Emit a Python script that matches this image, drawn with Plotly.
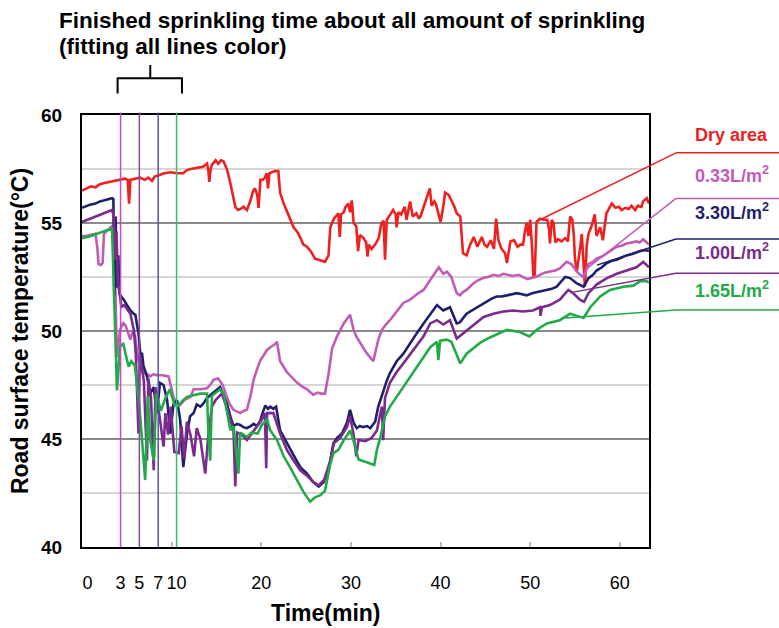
import plotly.graph_objects as go

# ---------------- data (time in min, temperature in degC) ----------------
dry_t = [0, 0.5, 1.0, 1.5, 2.0, 2.5, 3.0, 3.6, 4.2, 4.8, 5.1, 5.25, 5.4, 6.0, 6.5, 7.0, 7.4, 7.8, 8.1, 8.5,
         9.2, 9.9, 10.6, 11.3, 11.7, 12.1, 12.8, 13.5, 13.95, 14.1, 14.2, 14.35, 14.5, 14.9, 15.2, 15.5, 15.8,
         16.0, 16.2, 16.6, 17.1, 17.4, 17.7, 18.0, 18.4, 18.8, 19.1, 19.3, 19.55, 19.7, 19.9, 20.2, 20.4, 20.6,
         20.75, 20.9, 21.2, 21.5, 21.9, 22.1, 22.5, 22.9, 23.3, 23.6, 24.0, 24.2, 24.7, 25.1, 25.5, 26.0, 26.4,
         26.7, 27.1, 27.5, 27.7, 28.1, 28.4, 28.6, 28.75, 28.9, 29.2, 29.4, 29.7, 29.9, 30.1, 30.3, 30.6, 30.8,
         31.0, 31.4, 31.7, 31.85, 32.0, 32.3, 32.7, 33.1, 33.4, 33.65, 33.8, 34.0, 34.4, 34.7, 35.0, 35.1, 35.3,
         35.6, 36.0, 36.2, 36.6, 36.9, 37.3, 37.6, 37.8, 38.1, 38.5, 38.8, 39.0, 39.3, 39.5, 39.8, 40.0, 40.3,
         40.5, 40.9, 41.2, 41.5, 41.8, 42.2, 42.5, 42.9, 43.3, 43.7, 44.1, 44.6, 44.9, 45.2, 45.6, 45.95, 46.2,
         46.45, 46.8, 47.2, 47.4, 47.8, 48.2, 48.6, 48.9, 49.2, 49.4, 49.6, 49.8, 50.0, 50.2, 50.35, 50.5, 50.7,
         51.1, 51.5, 51.9, 52.1, 52.2, 52.4, 52.6, 52.8, 53.1, 53.5, 53.9, 54.2, 54.45, 54.7, 54.85, 55.0, 55.2,
         55.4, 55.6, 55.75, 55.9, 56.1, 56.3, 56.5, 56.8, 57.2, 57.4, 57.8, 58.1, 58.3, 58.5, 58.7, 59.1, 59.5,
         59.9, 60.2, 60.6, 61.0, 61.3, 61.7, 62.0, 62.4, 62.6, 63.0, 63.25]
dry_y = [56.5, 56.6, 56.7, 56.65, 56.8, 56.85, 56.9, 56.95, 57.0, 57.05, 57.0, 55.9, 57.0, 57.05, 57.1, 57.0, 57.1,
         56.95, 57.15, 57.2, 57.3, 57.35, 57.3, 57.3, 57.45, 57.5, 57.55, 57.6, 57.75, 57.4, 56.9, 57.5, 57.7,
         57.9, 57.75, 57.9, 57.85, 57.6, 57.45, 56.75, 55.75, 55.6, 55.65, 55.75, 55.6, 56.05, 56.5, 56.6, 56.3,
         55.7, 57.0, 57.0, 57.1, 57.3, 56.6, 57.3, 57.35, 57.4, 57.4, 56.4, 55.9, 55.5, 55.1, 54.8, 54.6, 54.45,
         54.0, 53.9, 53.7, 53.35, 53.3, 53.25, 53.2, 53.5, 54.8, 55.2, 55.35, 55.45, 54.35, 55.4, 55.5, 55.75,
         55.9, 55.5, 56.05, 55.0, 54.85, 53.7, 54.45, 54.3, 54.1, 53.45, 54.0, 53.8, 54.0, 54.3, 55.0, 55.1, 53.3,
         55.15, 55.4, 55.6, 55.4, 54.8, 55.5, 55.4, 55.75, 55.15, 56.0, 55.3, 55.45, 55.2, 55.35, 55.7, 56.2,
         56.6, 55.8, 56.0, 55.85, 55.4, 55.05, 55.75, 56.4, 56.3, 56.05, 55.8, 55.45, 55.3, 53.6, 53.5, 54.0,
         54.35, 53.9, 54.35, 54.0, 53.9, 54.2, 53.8, 55.2, 54.2, 53.8, 53.6, 53.15, 54.15, 54.2, 53.9, 54.0,
         54.0, 54.6, 55.0, 54.4, 55.15, 53.9, 52.5, 52.6, 55.05, 55.2, 55.15, 55.15, 54.7, 54.05, 55.15, 55.0,
         54.1, 54.25, 54.15, 54.3, 54.15, 55.3, 55.15, 54.5, 53.3, 52.75, 53.3, 53.95, 54.5, 53.3, 52.05, 53.95,
         54.5, 54.8, 55.4, 54.4, 54.8, 54.2, 54.8, 55.45, 55.6, 55.9, 55.7, 55.75, 55.6, 55.7, 55.65, 55.8,
         55.6, 55.8, 55.75, 56.0, 56.15, 55.9]

l033_t = [0, 0.5, 1.0, 1.5, 1.7, 1.85, 2.1, 2.3, 2.45, 2.9, 3.35, 3.55, 3.7, 3.9, 4.25, 4.6, 4.9, 5.4, 5.6, 5.9,
          6.3, 6.9, 7.3, 7.6, 8.0, 8.35, 9.0, 9.65, 10.2, 10.6, 11.0, 11.4, 12.1, 12.45, 13.2, 13.95, 14.3, 14.7,
          15.2, 15.7, 16.15, 16.5, 16.9, 17.65, 18.0, 18.4, 18.8, 19.15, 19.5, 19.9, 20.3, 20.6, 21.0, 21.4,
          21.75, 22.1, 22.85, 23.4, 24.0, 24.5, 25.1, 25.8, 26.3, 26.7, 27.1, 27.5, 27.9, 28.45, 28.8, 29.2,
          29.9, 30.3, 30.6, 31.0, 31.4, 31.8, 32.2, 32.5, 33.05, 33.45, 33.9, 34.35, 35.1, 35.85, 36.6, 37.35,
          38.1, 38.6, 39.05, 39.8, 40.3, 40.7, 41.2, 41.8, 42.15, 42.5, 42.9, 43.65, 44.2, 44.75, 45.3, 45.9,
          46.5, 47.0, 47.5, 48.1, 48.7, 49.2, 49.7, 50.15, 50.6, 51.1, 51.6, 52.2, 52.8, 53.3, 53.7, 54.05,
          54.6, 55.2, 55.6, 55.95, 56.5, 57.0, 57.4, 58.0, 58.55, 59.1, 59.65, 60.2, 60.75, 61.3, 61.85, 62.2,
          62.6, 63.25]
l033_y = [54.4, 54.4, 54.45, 54.5, 53.9, 53.1, 53.05, 53.15, 54.5, 54.7, 54.85, 54.8, 51.45, 48.8, 50.05, 50.4,
          50.2, 49.6, 49.9, 49.8, 48.65, 48.05, 48.0, 47.9, 48.0, 47.95, 47.95, 47.9, 46.95, 46.5, 46.6, 46.8,
          46.95, 47.3, 47.3, 47.35, 47.5, 47.75, 47.8, 47.5, 46.95, 46.6, 46.35, 46.2, 46.3, 46.35, 47.0, 47.75,
          48.2, 48.65, 48.9, 49.1, 49.25, 49.35, 49.5, 48.6, 48.1, 47.85, 47.6, 47.45, 47.3, 47.05, 47.15, 47.1,
          47.1, 48.0, 49.2, 49.75, 50.05, 50.35, 50.75, 50.05, 49.75, 49.45, 49.2, 48.95, 48.75, 48.6, 49.6,
          50.05, 50.3, 50.5, 50.9, 51.3, 51.45, 51.7, 51.9, 52.2, 52.5, 52.95, 52.65, 52.75, 52.5, 51.75, 51.65,
          51.8, 51.9, 52.2, 52.35, 52.45, 52.5, 52.6, 52.55, 52.65, 52.6, 52.55, 52.6, 52.5, 52.4, 52.45, 52.5,
          52.6, 52.7, 52.75, 52.8, 52.9, 53.05, 53.2, 53.1, 52.75, 52.6, 52.5, 53.1, 53.2, 53.35, 53.45, 53.6,
          53.75, 53.9, 53.95, 54.05, 54.1, 54.15, 54.1, 54.25, 54.0]

l330_t = [0, 0.5, 0.9, 1.5, 2.0, 2.5, 2.9, 3.35, 3.5, 3.6, 3.75, 3.9, 4.05, 4.2, 4.65, 5.0, 5.4, 5.75, 5.95, 6.3,
          6.5, 6.7, 6.85, 7.25, 7.6, 8.0, 8.35, 8.7, 9.1, 9.5, 9.85, 10.2, 10.6, 10.95, 11.3, 11.7, 12.05,
          12.45, 12.8, 13.2, 13.55, 13.95, 14.5, 15.05, 15.4, 15.8, 16.15, 16.55, 16.9, 17.3, 17.65, 18.0, 18.4,
          18.8, 19.15, 19.5, 19.9, 20.1, 20.45, 20.75, 21.0, 21.35, 21.65, 22.1, 22.85, 23.6, 24.35, 25.1, 25.8,
          26.4, 26.95, 27.5, 28.05, 28.45, 29.0, 29.55, 29.9, 30.3, 30.65, 31.0, 31.35, 31.8, 32.15, 32.7, 33.05,
          33.6, 34.0, 34.35, 35.1, 35.85, 36.6, 37.35, 38.1, 38.85, 39.6, 40.3, 40.7, 41.05, 41.8, 42.15, 42.9,
          43.5, 44.05, 44.6, 45.15, 45.7, 46.25, 46.8, 47.4, 48.0, 48.5, 49.1, 49.6, 50.2, 50.7, 51.3, 51.85,
          52.4, 52.95, 53.5, 53.9, 54.45, 54.8, 55.2, 55.95, 56.5, 57.0, 57.4, 58.0, 58.55, 59.1, 59.65, 60.2,
          60.75, 61.3, 61.85, 62.3, 62.8, 63.25]
l330_y = [55.7, 55.8, 55.85, 55.9, 56.0, 56.05, 56.1, 56.15, 56.1, 51.6, 55.3, 52.0, 53.5, 51.7, 51.45, 51.2,
          50.95, 50.8, 50.75, 49.9, 48.95, 48.95, 48.4, 47.9, 47.1, 47.4, 46.2, 47.6, 47.5, 46.8, 45.25, 46.6,
          46.8, 45.9, 43.7, 45.2, 46.05, 46.2, 46.6, 46.5, 46.65, 46.9, 47.1, 47.3, 47.4, 47.0, 46.65, 46.05,
          45.6, 45.7, 45.65, 45.55, 45.5, 45.6, 45.7, 45.6, 45.85, 46.15, 46.55, 46.4, 46.5, 46.4, 46.5, 45.4,
          44.8, 44.25, 43.7, 43.4, 43.0, 42.8, 43.0, 43.55, 44.8, 45.05, 45.25, 45.75, 46.35, 45.75, 45.5, 45.6,
          45.55, 45.6, 45.5, 45.8, 46.5, 47.25, 47.7, 48.05, 48.6, 48.95, 49.45, 49.9, 50.35, 50.8, 51.2, 50.95,
          51.05, 51.1, 50.35, 50.4, 50.8, 50.95, 51.1, 51.2, 51.35, 51.5, 51.6, 51.6, 51.65, 51.7, 51.75, 51.7,
          51.65, 51.75, 51.8, 51.85, 51.9, 51.95, 52.05, 52.3, 52.5, 52.45, 52.35, 52.2, 52.05, 52.45, 52.6,
          52.8, 52.95, 53.15, 53.25, 53.3, 53.4, 53.5, 53.55, 53.65, 53.7, 53.75, 53.7]

l100_t = [0, 0.9, 2.0, 2.9, 3.35, 3.55, 3.7, 3.85, 4.0, 4.2, 4.4, 4.7, 5.4, 5.8, 6.0, 6.3, 6.45, 6.9, 7.25, 7.4,
          7.7, 8.0, 8.2, 8.7, 9.1, 9.3, 9.6, 9.9, 10.3, 10.8, 11.1, 11.4, 11.7, 12.1, 12.5, 12.8, 13.2, 13.75,
          14.1, 14.5, 14.9, 15.6, 16.1, 16.9, 17.1, 17.3, 17.8, 18.4, 19.0, 19.6, 20.0, 20.4, 20.55, 20.65,
          21.35, 22.1, 22.85, 23.6, 24.35, 25.1, 25.8, 26.4, 27.0, 27.7, 28.1, 28.8, 29.55, 29.9, 30.3, 30.6,
          30.85, 31.6, 32.3, 32.9, 33.45, 33.6, 33.8, 34.35, 35.1, 35.85, 36.6, 37.35, 38.1, 38.85, 39.6, 40.3,
          41.05, 41.8, 42.55, 43.65, 44.8, 45.9, 47.0, 48.1, 49.2, 50.3, 51.1, 51.15, 51.3, 52.2, 53.3, 54.25,
          54.8, 55.55, 56.0, 56.5, 57.4, 58.55, 59.65, 60.75, 61.85, 62.6, 63.25]
l100_y = [55.05, 55.2, 55.4, 55.55, 55.6, 55.3, 53.3, 54.6, 52.2, 51.75, 51.1, 51.2, 50.8, 50.0, 48.95, 45.25,
          48.9, 47.7, 44.0, 47.8, 46.9, 43.55, 47.4, 45.9, 44.65, 46.2, 45.2, 46.5, 44.4, 44.35, 45.6, 44.1, 45.8,
          45.2, 44.2, 45.5, 45.0, 43.4, 45.25, 46.5, 46.8, 47.1, 46.5, 45.4, 42.8, 45.3, 45.2, 44.95, 45.3, 45.6,
          45.85, 46.2, 43.65, 46.2, 46.2, 45.25, 44.5, 44.0, 43.55, 43.3, 43.0, 42.85, 43.1, 44.0, 44.8, 45.05,
          45.55, 46.05, 45.2, 44.2, 44.95, 44.9, 45.05, 45.4, 46.5, 44.95, 46.9, 47.6, 48.1, 48.5, 48.9, 49.3,
          49.75, 50.35, 50.5, 50.3, 50.5, 49.65, 49.9, 50.3, 50.65, 50.8, 50.9, 50.95, 50.9, 50.95, 51.1, 50.7,
          51.1, 51.2, 51.45, 51.9, 51.75, 51.45, 51.35, 51.75, 52.15, 52.45, 52.65, 52.8, 52.95, 53.2, 52.95]

l165_t = [0, 1.0, 2.0, 2.9, 3.35, 3.55, 3.9, 4.25, 4.6, 5.2, 5.5, 5.9, 6.4, 7.05, 7.35, 7.6, 8.0, 8.3, 8.8, 9.3,
          9.8, 10.3, 10.6, 11.3, 11.7, 12.2, 13.2, 13.95, 14.1, 14.3, 14.5, 15.4, 15.8, 16.55, 16.9, 17.45,
          17.65, 18.4, 18.9, 19.6, 20.05, 20.65, 21.0, 21.75, 22.5, 23.2, 24.0, 24.7, 25.45, 26.0, 26.6, 27.1,
          27.7, 28.05, 28.6, 29.2, 29.7, 29.9, 30.3, 30.85, 31.6, 32.15, 32.6, 32.9, 33.3, 33.8, 34.35, 35.1,
          35.85, 36.6, 37.35, 38.1, 38.85, 39.6, 39.75, 39.95, 40.7, 41.2, 42.2, 42.9, 44.4, 45.5, 46.0, 47.4,
          48.85, 49.9, 50.7, 51.85, 53.3, 54.45, 55.2, 55.95, 56.7, 57.8, 58.9, 60.4, 61.5, 62.25, 63.0, 63.25]
l165_y = [54.3, 54.4, 54.55, 54.7, 54.75, 52.05, 47.25, 49.3, 49.4, 48.35, 48.6, 48.4, 46.5, 43.1, 47.0, 45.0,
          44.0, 47.1, 46.3, 46.9, 47.3, 46.6, 46.5, 46.8, 46.95, 47.0, 47.1, 47.1, 45.25, 44.0, 47.0, 47.3, 47.1,
          45.4, 45.6, 43.4, 45.3, 45.1, 45.3, 45.25, 45.65, 45.9, 45.4, 44.95, 44.2, 43.7, 43.1, 42.55, 42.1,
          42.3, 42.4, 42.6, 43.85, 44.35, 44.5, 44.95, 45.25, 45.4, 44.9, 44.05, 43.95, 43.85, 43.8, 44.5, 45.1,
          46.05, 46.5, 46.95, 47.4, 47.9, 48.35, 48.8, 49.25, 49.5, 48.65, 49.55, 49.6, 49.5, 48.5, 48.95, 49.45,
          49.7, 49.8, 50.05, 49.95, 49.75, 50.05, 50.35, 50.5, 50.8, 50.7, 50.6, 51.1, 51.6, 51.9, 52.05, 52.1,
          52.3, 52.3, 52.25]

series_names = ["Dry area", "0.33L/m<sup>2</sup>", "3.30L/m<sup>2</sup>", "1.00L/m<sup>2</sup>", "1.65L/m<sup>2</sup>"]
series_colors = ["#ee2020", "#c05cb8", "#1f1f6e", "#7a2b8c", "#22aa48"]

# sprinkling end markers (position on time axis, label)
sprinkle_pos = [4.3, 6.4, 8.5, 10.55]
sprinkle_labels = ["3", "5", "7", "10"]
sprinkle_colors = ["#cc44cc", "#8a44a8", "#5555aa", "#3cbb6a"]

x_tick_vals = [0.6] + sprinkle_pos + [20, 30, 40, 50, 60]
x_tick_text = ["0"] + sprinkle_labels + ["20", "30", "40", "50", "60"]
x_minor_ticks = [10, 20, 30, 40, 50, 60]

# leader-line ends on the curves (time, temp) and label heights (temp)
leader_end_t = [51.1, 56.35, 57.45, 54.8, 53.9]
leader_end_y = [55.15, 52.9, 53.05, 51.8, 50.6]
label_y = [58.25, 56.14, 54.26, 52.67, 50.97]

XMAX = 63.25
YMIN, YMAX = 40, 60

SANS = "Liberation Sans, Arial, Helvetica, sans-serif"

fig = go.Figure()
all_t = [dry_t, l033_t, l330_t, l100_t, l165_t]
all_y = [dry_y, l033_y, l330_y, l100_y, l165_y]
for i in range(5):
    fig.add_trace(go.Scatter(x=all_t[i], y=all_y[i], mode="lines", name=series_names[i],
                             line=dict(color=series_colors[i], width=2.6), showlegend=False))

shapes = []
for p, c in zip(sprinkle_pos, sprinkle_colors):
    shapes.append(dict(type="line", xref="x", yref="paper", x0=p, x1=p, y0=0, y1=1.006,
                       line=dict(color=c, width=1.5), layer="above"))


def xp(t):
    return t / XMAX


def yp(v):
    return (v - YMIN) / (YMAX - YMIN)


KNEE = 1.0476
REND = 1.23
for i in range(5):
    shapes.append(dict(type="line", xref="paper", yref="paper", x0=xp(leader_end_t[i]), y0=yp(leader_end_y[i]),
                       x1=KNEE, y1=yp(label_y[i]), line=dict(color=series_colors[i], width=1.5)))
    shapes.append(dict(type="line", xref="paper", yref="paper", x0=KNEE, y0=yp(label_y[i]),
                       x1=REND, y1=yp(label_y[i]), line=dict(color=series_colors[i], width=1.5)))

# bracket above sprinkle lines
shapes.append(dict(type="path", xref="paper", yref="paper",
                   path="M 0.0628,1.050 L 0.0628,1.085 L 0.1763,1.085 L 0.1763,1.050 M 0.1204,1.085 L 0.1204,1.1157",
                   line=dict(color="black", width=2)))

annotations = []
label_centers = [0.9537, 0.8634, 0.7755, 0.6829, 0.5972]
for i in range(5):
    annotations.append(dict(xref="paper", yref="paper", x=1.0776, y=label_centers[i], xanchor="left",
                            yanchor="middle", showarrow=False, text=series_names[i],
                            font=dict(family=SANS, size=18, color=series_colors[i], weight="bold")))

annotations.append(dict(xref="paper", yref="paper", x=-0.0435, y=1.2523, xanchor="left", yanchor="top",
                        showarrow=False,
                        text="Finished sprinkling time about all amount of sprinkling",
                        font=dict(family=SANS, size=22.5, color="black", weight="bold")))
annotations.append(dict(xref="paper", yref="paper", x=-0.0435, y=1.192, xanchor="left", yanchor="top",
                        showarrow=False, text="(fitting all lines color)",
                        font=dict(family=SANS, size=22.5, color="black", weight="bold")))
annotations.append(dict(xref="paper", yref="paper", x=0.429, y=-0.118, xanchor="center", yanchor="top",
                        showarrow=False, text="Time(min)",
                        font=dict(family=SANS, size=23, color="black", weight="bold")))

fig.update_layout(
    width=779, height=628,
    margin=dict(l=82, r=130, t=115, b=81),
    paper_bgcolor="white", plot_bgcolor="white",
    shapes=shapes, annotations=annotations,
    showlegend=False,
)
fig.update_xaxes(range=[0, XMAX], tickmode="array", tickvals=x_tick_vals, ticktext=x_tick_text,
                 tickangle=0,
                 showgrid=False, zeroline=False, showline=True, linecolor="black", linewidth=2, mirror=True,
                 ticks="", ticklabelstandoff=18,
                 tickfont=dict(family=SANS, size=18, color="black"),
                 minor=dict(tickmode="array", tickvals=x_minor_ticks, ticks="inside", ticklen=5,
                            tickcolor="#bbbbbb", tickwidth=1.5, showgrid=False))
fig.update_yaxes(range=[YMIN, YMAX], tickmode="linear", tick0=40, dtick=5,
                 showgrid=True, gridcolor="#8a8a8a", gridwidth=1.5,
                 minor=dict(dtick=2.5, showgrid=True, gridcolor="#d6d6d6", gridwidth=1.5),
                 zeroline=False, showline=True, linecolor="black", linewidth=2, mirror=True,
                 ticks="", ticklabelstandoff=14,
                 tickfont=dict(family=SANS, size=19, color="black", weight="bold"),
                 title=dict(text="Road surface temperature(°C)", standoff=6,
                            font=dict(family=SANS, size=23, color="black", weight="bold")))

fig.write_html("out.html")
